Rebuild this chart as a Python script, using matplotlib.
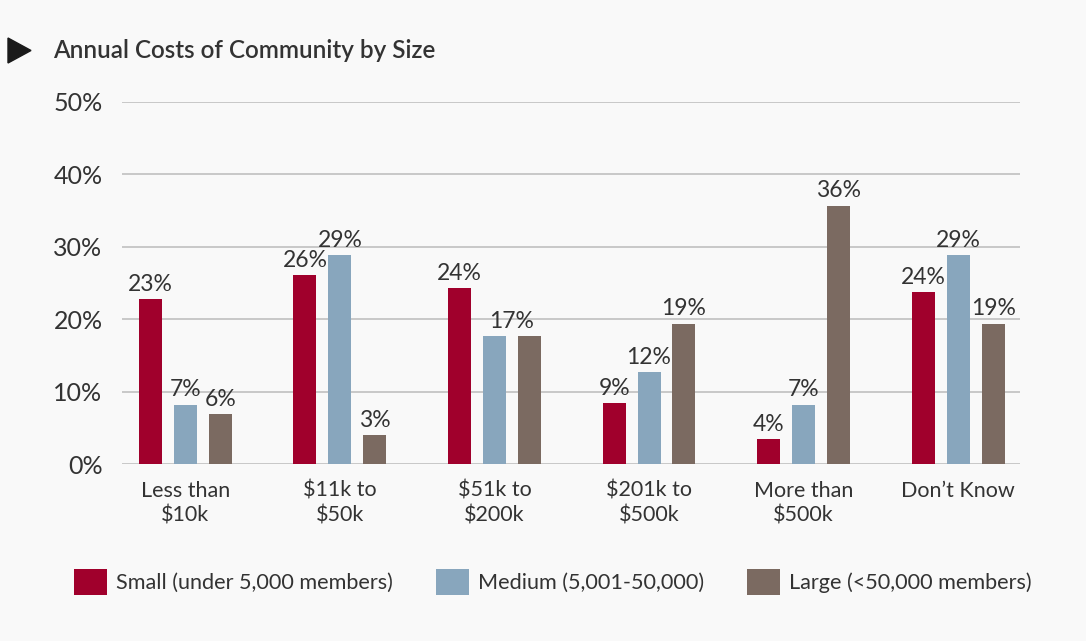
import matplotlib.pyplot as plt
import numpy as np
from matplotlib.patches import Polygon

plt.rcParams['font.family'] = ['Lato', 'DejaVu Sans']

categories = ['Less than\n$10k', '$11k to\n$50k', '$51k to\n$200k', '$201k to\n$500k', 'More than\n$500k', 'Don\u2019t Know']
series_names = ['Small (under 5,000 members)', 'Medium (5,001-50,000)', 'Large (<50,000 members)']

# bar heights
small = [22.8, 26.1, 24.3, 8.4, 3.5, 23.8]
medium = [8.2, 28.8, 17.7, 12.7, 8.2, 28.8]
large = [6.9, 4.0, 17.7, 19.4, 35.7, 19.4]

# printed labels (None = no label shown in the original)
small_lbl = [23, 26, 24, 9, 4, 24]
medium_lbl = [7, 29, 17, 12, 7, 29]
large_lbl = [6, 3, None, 19, 36, 19]

colors = ['#a0002c', '#88a6bd', '#7b6a61']
bg = '#f9f9f9'
txt = '#333333'

fig = plt.figure(figsize=(10.86, 6.41), dpi=100)
fig.patch.set_facecolor(bg)
ax = fig.add_axes([0.1123, 0.2761, 0.8269, 0.5648])
ax.set_facecolor(bg)

x = np.arange(len(categories))
w = 0.149
step = 0.226
handles = []
for i, (vals, lbls) in enumerate([(small, small_lbl), (medium, medium_lbl), (large, large_lbl)]):
    bars = ax.bar(x + (i - 1) * step, vals, width=w, color=colors[i], label=series_names[i], zorder=3)
    handles.append(bars)
    for j, (b, l) in enumerate(zip(bars, lbls)):
        if l is None:
            continue
        dx = 0
        # the shared 17% label sits between medium and large bars
        if i == 1 and large_lbl[j] is None:
            dx = 12
        ax.annotate(f'{l}%', (b.get_x() + b.get_width() / 2, b.get_height()),
                    xytext=(dx, 3), textcoords='offset points', ha='center', va='bottom',
                    fontsize=16.5, color=txt)

ax.set_xlim(-0.41, 5.40)
ax.set_ylim(0, 50)
ax.set_yticks([0, 10, 20, 30, 40, 50])
ax.set_yticklabels([f'{v}%' for v in [0, 10, 20, 30, 40, 50]], fontsize=18, color=txt)
ax.set_xticks(x)
ax.set_xticklabels(categories, fontsize=15.5, color=txt, linespacing=1.3)
ax.tick_params(axis='both', length=0)
ax.tick_params(axis='y', pad=14)
ax.tick_params(axis='x', pad=12)
ax.grid(axis='y', color='#c4c4c4', linewidth=1.3, zorder=0)
for s in ax.spines.values():
    s.set_visible(False)

# title with triangle marker
tri = Polygon([[8 / 1086, 1 - 38 / 641], [8 / 1086, 1 - 63 / 641], [31 / 1086, 1 - 50.5 / 641]],
              closed=True, transform=fig.transFigure, color='#1a1a1a')
fig.patches.append(tri)
fig.text(53 / 1086, 1 - 50 / 641, 'Annual Costs of Community by Size', fontsize=17.5,
         fontweight='semibold', color=txt, va='center', ha='left')

fig.legend(handles=handles, labels=series_names, loc='center', bbox_to_anchor=(0.509, 0.092),
           ncol=3, frameon=False, fontsize=15.6, handlelength=1.5, handleheight=1.5,
           handletextpad=0.42, columnspacing=2.0, labelcolor=txt)

fig.savefig('out.png', dpi=100, facecolor=bg)
